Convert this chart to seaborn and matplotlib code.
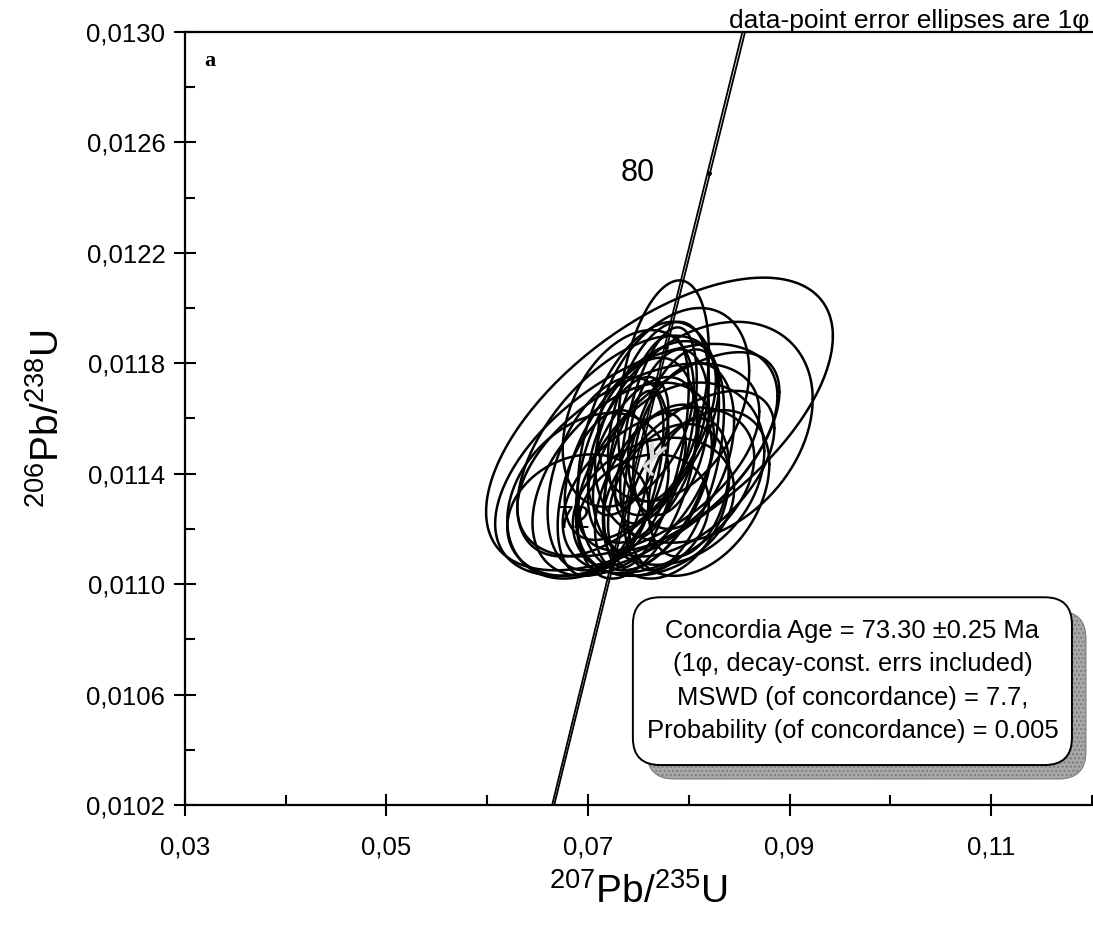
import numpy as np
import pandas as pd
import matplotlib
matplotlib.use("Agg")
import matplotlib.pyplot as plt
import seaborn as sns
from matplotlib.patches import FancyBboxPatch
from matplotlib.ticker import MultipleLocator, FuncFormatter

# ---------------- data ----------------
# individual analyses: 207Pb/235U, 1s, 206Pb/238U, 1s, error correlation
x_ratio = [0.0771, 0.0748, 0.0815, 0.0790, 0.0760, 0.0748, 0.0735, 0.0700, 0.0690, 0.0770,
           0.0775, 0.0755, 0.0780, 0.0810, 0.0765, 0.0740, 0.0762, 0.0720, 0.0795, 0.0730,
           0.0770, 0.0755, 0.0780, 0.0750, 0.0785, 0.0715, 0.0800, 0.0745,
           0.0770, 0.0758, 0.0785, 0.0752, 0.0800, 0.0790, 0.0740, 0.0765]
x_err = [0.0172, 0.0140, 0.0108, 0.0085, 0.0070, 0.0060, 0.0090, 0.0080, 0.0070, 0.0050,
         0.0045, 0.0055, 0.0060, 0.0070, 0.0080, 0.0040, 0.0035, 0.0060, 0.0050, 0.0100,
         0.0095, 0.0065, 0.0040, 0.0120, 0.0075, 0.0045, 0.0040, 0.0030,
         0.0038, 0.0042, 0.0050, 0.0075, 0.0085, 0.0100, 0.0065, 0.0058]
y_ratio = [0.01158, 0.01145, 0.01155, 0.01140, 0.01150, 0.01142, 0.01138, 0.01132, 0.01125, 0.01160,
           0.01170, 0.01145, 0.01130, 0.01133, 0.01128, 0.01150, 0.01142, 0.01140, 0.01150, 0.01150,
           0.01134, 0.01125, 0.01155, 0.01145, 0.01165, 0.01133, 0.01135, 0.01140,
           0.01155, 0.01148, 0.01145, 0.01152, 0.01140, 0.01148, 0.01160, 0.01135]
y_err = [0.00053, 0.00042, 0.00040, 0.00033, 0.00045, 0.00040, 0.00035, 0.00030, 0.00022, 0.00035,
         0.00040, 0.00030, 0.00028, 0.00030, 0.00025, 0.00025, 0.00020, 0.00035, 0.00030, 0.00040,
         0.00030, 0.00022, 0.00030, 0.00035, 0.00035, 0.00030, 0.00025, 0.00030,
         0.00038, 0.00042, 0.00040, 0.00036, 0.00030, 0.00036, 0.00032, 0.00030]
rho = [0.60, 0.55, 0.30, 0.25, 0.35, 0.40, 0.45, 0.30, 0.20, 0.40,
       0.35, 0.45, 0.30, 0.35, 0.25, 0.50, 0.45, 0.40, 0.30, 0.55,
       0.40, 0.20, 0.30, 0.50, 0.35, 0.40, 0.30, 0.55,
       0.50, 0.55, 0.45, 0.60, 0.55, 0.60, 0.35, 0.50]

# concordia age ellipse
conc_x, conc_sx, conc_y, conc_sy, conc_rho = 0.0766, 0.0010, 0.01146, 0.000065, 0.5

# concordia curve parameters
lambda238 = 1.55125e-10
lambda235 = 9.8485e-10
age_labels = [72, 80]
age_marks = [72, 76, 80]

box_lines = ["Concordia Age = 73.30 \u00b10.25 Ma",
             "(1\u03c6, decay-const. errs included)",
             "MSWD (of concordance) = 7.7,",
             "Probability (of concordance) = 0.005"]
header_text = "data-point error ellipses are 1\u03c6"
panel_label = "a"

x_ticks = [0.03, 0.05, 0.07, 0.09, 0.11]
y_ticks = [0.0102, 0.0106, 0.0110, 0.0114, 0.0118, 0.0122, 0.0126, 0.0130]

# ---------------- helpers ----------------
def ellipse_pts(cx, sx, cy, sy, r, n=200):
    t = np.linspace(0, 2 * np.pi, n)
    cov = np.array([[sx * sx, r * sx * sy], [r * sx * sy, sy * sy]])
    L = np.linalg.cholesky(cov)
    pts = L @ np.vstack([np.cos(t), np.sin(t)])
    return cx + pts[0], cy + pts[1]

rows = []
for i in range(len(x_ratio)):
    ex, ey = ellipse_pts(x_ratio[i], x_err[i], y_ratio[i], y_err[i], rho[i])
    rows.append(pd.DataFrame({"x": ex, "y": ey, "id": i}))
ell_df = pd.concat(rows, ignore_index=True)

ages = np.linspace(60e6, 90e6, 400)
conc_rows = []
for k, f in enumerate([0.9985, 1.0015]):
    conc_rows.append(pd.DataFrame({"x": np.exp(lambda235 * f * ages) - 1,
                                   "y": np.exp(lambda238 * ages) - 1, "id": k}))
conc_df = pd.concat(conc_rows, ignore_index=True)

# ---------------- plot ----------------
sns.set_theme(style="white")
plt.rcParams["font.family"] = ["Liberation Sans", "DejaVu Sans"]
plt.rcParams["mathtext.fontset"] = "custom"
plt.rcParams["mathtext.rm"] = "Liberation Sans"
plt.rcParams["mathtext.it"] = "Liberation Sans"
plt.rcParams["text.color"] = "black"
plt.rcParams["axes.labelcolor"] = "black"
plt.rcParams["xtick.color"] = "black"
plt.rcParams["ytick.color"] = "black"

fig = plt.figure(figsize=(10.93, 9.27), dpi=100)
ax = fig.add_axes([0.169, 0.1316, 0.83, 0.834])

sns.lineplot(data=conc_df, x="x", y="y", units="id", estimator=None, sort=False,
             color="black", lw=1.3, ax=ax, legend=False)

sns.lineplot(data=ell_df, x="x", y="y", units="id", estimator=None, sort=False,
             color="black", lw=1.8, ax=ax, legend=False)

cx_, cy_ = ellipse_pts(conc_x, conc_sx, conc_y, conc_sy, conc_rho)
sns.lineplot(x=cx_, y=cy_, sort=False, color="#d8d8d8", lw=2.5, ax=ax)

# age marks
for a in age_marks:
    ax.plot(np.exp(lambda235 * a * 1e6) - 1, np.exp(lambda238 * a * 1e6) - 1,
            marker="o", ms=2.5, color="black", zorder=5)
label_offsets = {72: (-36, 0), 80: (-51, 0)}
for a in age_labels:
    ax.annotate(str(a), (np.exp(lambda235 * a * 1e6) - 1, np.exp(lambda238 * a * 1e6) - 1),
                xytext=label_offsets[a], textcoords="offset points", ha="center", va="center",
                fontsize=22)

ax.set_xlim(0.03, 0.12)
ax.set_ylim(0.0102, 0.0130)
ax.set_xticks(x_ticks)
ax.set_yticks(y_ticks)
ax.xaxis.set_minor_locator(MultipleLocator(0.01))
ax.yaxis.set_minor_locator(MultipleLocator(0.0002))
ax.xaxis.set_major_formatter(FuncFormatter(lambda v, p: f"{v:.2f}".replace(".", ",")))
ax.yaxis.set_major_formatter(FuncFormatter(lambda v, p: f"{v:.4f}".replace(".", ",")))
ax.tick_params(which="major", direction="inout", length=16, width=1.5, labelsize=18.5,
               colors="black", pad=6)
ax.tick_params(which="minor", direction="in", length=7, width=1.5)
ax.tick_params(axis="x", which="major", pad=14)
ax.tick_params(axis="x", which="both", bottom=True, top=False)
ax.tick_params(axis="y", which="both", left=True, right=False)

for s in ["left", "bottom", "top"]:
    ax.spines[s].set_visible(True)
    ax.spines[s].set_color("black")
    ax.spines[s].set_linewidth(1.6)
ax.spines["right"].set_visible(False)
ax.grid(False)

ax.set_xlabel(r"$^{207}$Pb/$^{235}$U", fontsize=28, labelpad=10)
ax.set_ylabel(r"$^{206}$Pb/$^{238}$U", fontsize=28, labelpad=14)

ax.text(0.022, 0.962, panel_label, transform=ax.transAxes, fontsize=16, fontweight="bold",
        family="Liberation Serif", va="center", ha="left")
fig.text(0.997, 0.970, header_text, ha="right", va="baseline", fontsize=19)

# text box with shadow
bx0, by0, bw, bh = 0.494, 0.0517, 0.484, 0.217
shadow = FancyBboxPatch((bx0 + 0.0154, by0 - 0.018), bw, bh,
                        boxstyle="round,pad=0,rounding_size=0.03",
                        transform=ax.transAxes, facecolor="#a8a8a8", edgecolor="#7c7c7c",
                        hatch="....", lw=0.8, zorder=6, mutation_aspect=1.17)
box = FancyBboxPatch((bx0, by0), bw, bh, boxstyle="round,pad=0,rounding_size=0.03",
                     transform=ax.transAxes, facecolor="white", edgecolor="black",
                     lw=1.4, zorder=7, mutation_aspect=1.17)
ax.add_patch(shadow)
ax.add_patch(box)
ax.text(bx0 + bw / 2, by0 + bh / 2, "\n".join(box_lines), transform=ax.transAxes,
        ha="center", va="center", fontsize=18.4, linespacing=1.5, zorder=8)

fig.savefig("out.png", dpi=100)
